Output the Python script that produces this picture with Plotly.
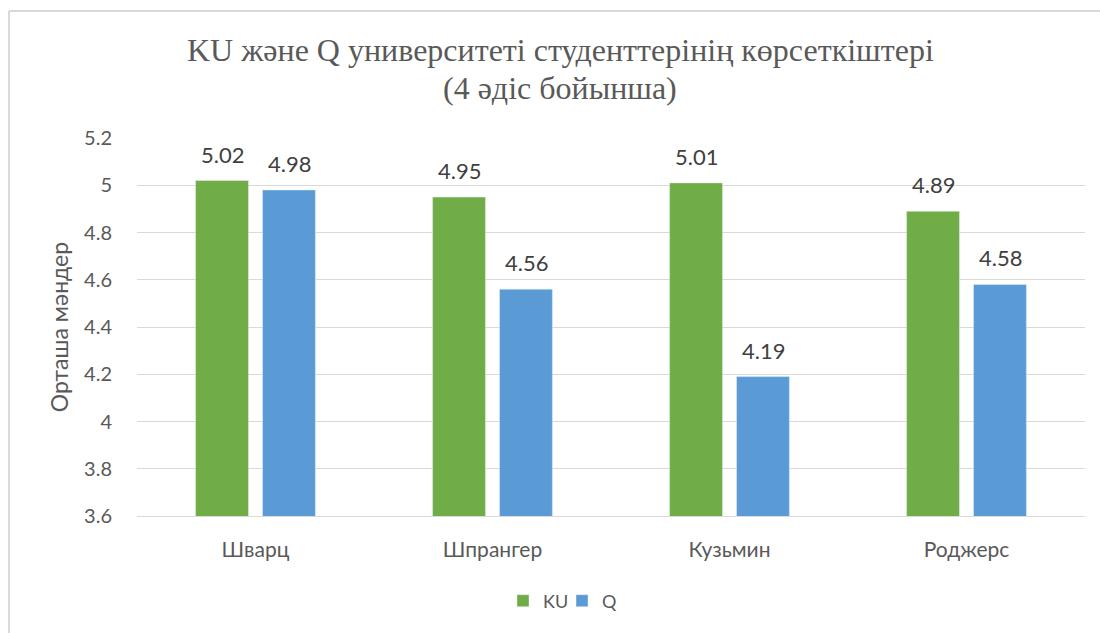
import plotly.graph_objects as go

categories = ["Шварц", "Шпрангер", "Кузьмин", "Роджерс"]
ku_values = [5.02, 4.95, 5.01, 4.89]
q_values = [4.98, 4.56, 4.19, 4.58]
y_ticks = [3.6, 3.8, 4.0, 4.2, 4.4, 4.6, 4.8, 5.0, 5.2]
y_ticktext = ["3.6", "3.8", "4", "4.2", "4.4", "4.6", "4.8", "5", "5.2"]
title_lines = ["KU және Q университеті студенттерінің көрсеткіштері", "(4 әдіс бойынша)"]

font_main = "Lato, 'Open Sans', sans-serif"
font_title = "'Liberation Serif', 'Times New Roman', serif"
txt_col = "#595959"
lab_col = "#404040"

PL, PT, PW, PH = 137, 138, 948, 378  # plot area in px

fig = go.Figure()
fig.add_trace(go.Bar(name="KU", x=categories, y=ku_values, marker_color="#70AD47"))
fig.add_trace(go.Bar(name="Q", x=categories, y=q_values, marker_color="#5B9BD5"))

# data labels placed above each bar
slot_px = 33.5
for vals, shift in ((ku_values, -slot_px), (q_values, slot_px)):
    for c, v in zip(categories, vals):
        fig.add_annotation(x=c, y=v, xref="x", yref="y", text=f"{v:.2f}",
                           showarrow=False, xshift=shift, yshift=11, yanchor="bottom",
                           font=dict(size=22, color=lab_col, family=font_main))

# title (two lines)
for line, ypx in zip(title_lines, (50, 88)):
    fig.add_annotation(x=(560 - PL) / PW, y=(PT + PH - ypx) / PH, xref="paper", yref="paper",
                       text=line, showarrow=False, xanchor="center", yanchor="middle",
                       font=dict(family=font_title, size=32, color=txt_col))

fig.update_layout(
    width=1100, height=633,
    paper_bgcolor="white", plot_bgcolor="white",
    margin=dict(l=PL, r=1100 - PL - PW, t=PT, b=633 - PT - PH, autoexpand=False),
    barmode="group", bargap=0.435, bargroupgap=0.21,
    showlegend=True,
    legend=dict(
        orientation="h", x=(503 - PL) / PW, xanchor="left", y=(PT + PH - 601) / PH, yanchor="middle",
        font=dict(family=font_main, size=18, color=txt_col),
        traceorder="normal", itemwidth=30, entrywidth=14,
    ),
    font=dict(family=font_main, color=txt_col),
)
fig.update_xaxes(
    showgrid=False, showline=True, linecolor="#D9D9D9", linewidth=1,
    tickfont=dict(size=21, color=txt_col, family=font_main), ticks="",
    ticklabelstandoff=15, automargin=False,
)
fig.update_yaxes(
    range=[3.6, 5.2], tickvals=y_ticks, ticktext=y_ticktext,
    showgrid=True, gridcolor="#D9D9D9", gridwidth=1, zeroline=False,
    showline=False, ticks="", ticklen=0, ticklabelstandoff=24,
    tickfont=dict(size=20, color=txt_col, family=font_main),
    title=dict(text="Орташа мәндер", font=dict(size=23, color=txt_col, family=font_main), standoff=9),
    automargin=False,
)
# chart border (top and left edges visible)
bx = (9 - PL) / PW
by = (PT + PH - 11) / PH
fig.add_shape(type="line", xref="paper", yref="paper", x0=bx, x1=1.1, y0=by, y1=by,
              line=dict(color="#D9D9D9", width=2), layer="below")
fig.add_shape(type="line", xref="paper", yref="paper", x0=bx, x1=bx, y0=by, y1=-0.5,
              line=dict(color="#D9D9D9", width=2), layer="below")

fig.write_html("out.html", config={"displayModeBar": False},
               post_script="document.body.style.margin='0px';")
